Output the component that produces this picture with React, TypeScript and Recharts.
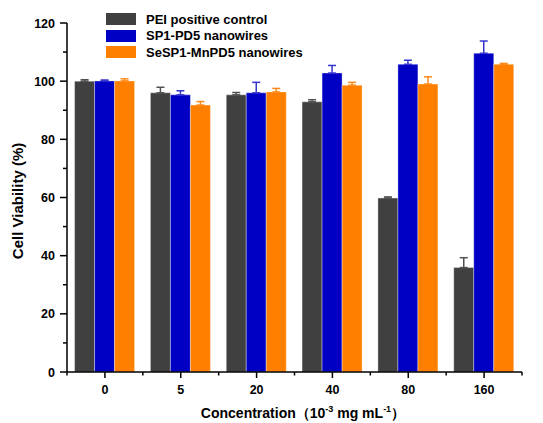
import React from 'react';
import { BarChart, Bar, XAxis, YAxis, ErrorBar, Legend } from 'recharts';

const categories = ['0', '5', '20', '40', '80', '160'];
const seriesNames = ['PEI positive control', 'SP1-PD5 nanowires', 'SeSP1-MnPD5 nanowires'];
const peiValues = [100.0, 96.0, 95.3, 92.9, 59.8, 35.9];
const peiErrors = [0.5, 1.9, 0.8, 0.7, 0.4, 3.4];
const sp1Values = [100.1, 95.3, 96.0, 102.8, 105.8, 109.6];
const sp1Errors = [0.3, 1.4, 3.6, 2.6, 1.4, 4.2];
const sespValues = [100.1, 91.8, 96.3, 98.6, 99.0, 105.8];
const sespErrors = [0.7, 1.2, 1.2, 1.0, 2.5, 0.3];
const yTicks = [0, 10, 20, 30, 40, 50, 60, 70, 80, 90, 100, 110, 120];
const yTitle = 'Cell Viability (%)';

const data = categories.map((c, i) => ({
  cat: c,
  pei: peiValues[i],
  peiErr: [0, peiErrors[i]],
  sp1: sp1Values[i],
  sp1Err: [0, sp1Errors[i]],
  sesp: sespValues[i],
  sespErr: [0, sespErrors[i]],
}));

const FONT = '"Liberation Sans", Arial, sans-serif';
const X_TICK_SIZE = 6;
const X_TICK_MARGIN = 7;
const Y_TICK_SIZE = 7;
const Y_TICK_MARGIN = 5;

const XTick = (props: any) => {
  const { x, y, payload, index } = props;
  const axisY = y - X_TICK_SIZE - X_TICK_MARGIN;
  const off = payload && payload.offset != null ? payload.offset : 38;
  return (
    <g>
      <line x1={x - off} x2={x - off} y1={axisY} y2={axisY + 3.5} stroke="#000" strokeWidth={1.5} />
      {index === categories.length - 1 && (
        <line x1={x + off} x2={x + off} y1={axisY} y2={axisY + 3.5} stroke="#000" strokeWidth={1.5} />
      )}
      <text x={x} y={y} dy="0.71em" textAnchor="middle" fontFamily={FONT} fontWeight="bold" fontSize={12.5} fill="#000">
        {payload.value}
      </text>
    </g>
  );
};

const YTick = (props: any) => {
  const { x, y, payload } = props;
  const axisX = x + Y_TICK_SIZE + Y_TICK_MARGIN;
  const major = payload.value % 20 === 0;
  const len = major ? 7 : 4;
  return (
    <g>
      <line x1={axisX - len} x2={axisX} y1={y} y2={y} stroke="#000" strokeWidth={1.5} />
      {major && (
        <text x={x} y={y} dy="0.36em" textAnchor="end" fontFamily={FONT} fontWeight="bold" fontSize={12.5} fill="#000">
          {payload.value}
        </text>
      )}
    </g>
  );
};

const LegendContent = (props: any) => {
  const { payload } = props;
  return (
    <div style={{ fontFamily: FONT }}>
      {(payload || []).map((entry: any, i: number) => (
        <div key={i} style={{ display: 'flex', alignItems: 'center', height: 16.5 }}>
          <div style={{ width: 30, height: 12, background: entry.color, marginRight: 10 }} />
          <span style={{ fontSize: 13, fontWeight: 'bold', color: '#000', whiteSpace: 'nowrap' }}>{entry.value}</span>
        </div>
      ))}
    </div>
  );
};

export default function App() {
  return (
    <div style={{ position: 'absolute', left: 0, top: 0, width: 543, height: 423, background: '#fff' }}>
      <BarChart
        width={543}
        height={423}
        data={data}
        margin={{ top: 23, right: 21, left: 7, bottom: 21 }}
        barCategoryGap="10%"
        barGap={0}
      >
        <XAxis
          dataKey="cat"
          height={30}
          axisLine={{ stroke: '#000', strokeWidth: 1.5 }}
          tickLine={{ stroke: '#000', strokeWidth: 1.5 }}
          tickSize={X_TICK_SIZE}
          tickMargin={X_TICK_MARGIN}
          tick={<XTick />}
          interval={0}
        />
        <YAxis
          width={60}
          domain={[0, 120]}
          ticks={yTicks}
          interval={0}
          axisLine={{ stroke: '#000', strokeWidth: 1.5 }}
          tickLine={false}
          tickSize={Y_TICK_SIZE}
          tickMargin={Y_TICK_MARGIN}
          tick={<YTick />}
        />
        <Legend
          layout="vertical"
          align="center"
          verticalAlign="middle"
          wrapperStyle={{ left: 106, top: 11, width: 260 }}
          content={<LegendContent />}
        />
        <Bar dataKey="pei" name={seriesNames[0]} fill="#404040" stroke="rgba(255,255,255,0.35)" strokeWidth={1} isAnimationActive={false}>
          <ErrorBar dataKey="peiErr" direction="y" width={4} stroke="#505050" strokeWidth={1.5} isAnimationActive={false} />
        </Bar>
        <Bar dataKey="sp1" name={seriesNames[1]} fill="#0000c4" stroke="rgba(255,255,255,0.35)" strokeWidth={1} isAnimationActive={false}>
          <ErrorBar dataKey="sp1Err" direction="y" width={4} stroke="#3535d0" strokeWidth={1.5} isAnimationActive={false} />
        </Bar>
        <Bar dataKey="sesp" name={seriesNames[2]} fill="#ff8000" stroke="rgba(255,255,255,0.35)" strokeWidth={1} isAnimationActive={false}>
          <ErrorBar dataKey="sespErr" direction="y" width={4} stroke="#ff8a1a" strokeWidth={1.5} isAnimationActive={false} />
        </Bar>
      </BarChart>
      <svg width={543} height={423} style={{ position: 'absolute', left: 0, top: 0, pointerEvents: 'none' }}>
        <text
          x={17}
          y={201}
          transform="rotate(-90, 17, 201)"
          textAnchor="middle"
          dominantBaseline="central"
          fontFamily={FONT}
          fontWeight="bold"
          fontSize={15}
          fill="#000"
        >
          {yTitle}
        </text>
        <text x={303} y={418} textAnchor="middle" fontFamily={FONT} fontWeight="bold" fontSize={14} fill="#000">
          Concentration（10
          <tspan fontSize={9} dy={-6}>-3</tspan>
          <tspan dy={6}> mg mL</tspan>
          <tspan fontSize={9} dy={-6}>-1</tspan>
          <tspan dy={6}>）</tspan>
        </text>
      </svg>
    </div>
  );
}
